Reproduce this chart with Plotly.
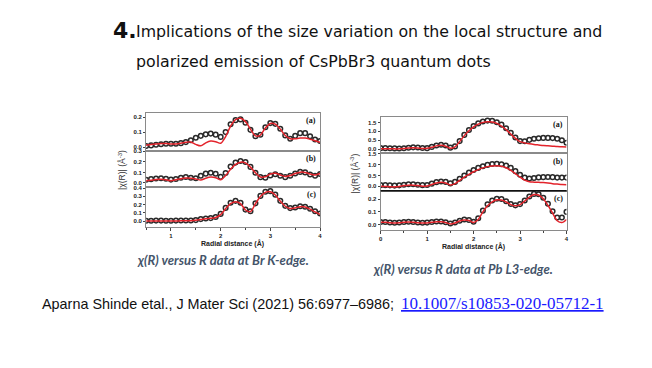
import plotly.graph_objects as go

W, H = 652, 368

# ---------------- data ----------------
x_br = [0.5, 0.6, 0.7, 0.8, 0.9, 1.0, 1.1, 1.2, 1.3, 1.4, 1.5, 1.6, 1.7, 1.8, 1.9, 2.0, 2.1, 2.2,
        2.3, 2.4, 2.5, 2.6, 2.7, 2.8, 2.9, 3.0, 3.1, 3.2, 3.3, 3.4, 3.5, 3.6, 3.7, 3.8, 3.9, 4.0]

br_a_data = [0.007, 0.011, 0.015, 0.019, 0.022, 0.022, 0.022, 0.026, 0.033, 0.045, 0.062, 0.075,
             0.085, 0.09, 0.083, 0.068, 0.1, 0.152, 0.18, 0.185, 0.162, 0.115, 0.073, 0.082,
             0.132, 0.16, 0.155, 0.122, 0.078, 0.055, 0.075, 0.093, 0.093, 0.072, 0.05, 0.04]
br_a_fit = [0.012, 0.017, 0.021, 0.024, 0.024, 0.021, 0.02, 0.025, 0.032, 0.034, 0.018, 0.008,
            0.028, 0.04, 0.036, 0.025, 0.07, 0.14, 0.183, 0.192, 0.17, 0.12, 0.075, 0.08,
            0.128, 0.158, 0.153, 0.12, 0.077, 0.055, 0.056, 0.06, 0.06, 0.052, 0.042, 0.032]

br_b_data = [0.03, 0.036, 0.042, 0.045, 0.04, 0.032, 0.038, 0.05, 0.056, 0.05, 0.045, 0.068,
             0.088, 0.097, 0.087, 0.058, 0.095, 0.155, 0.193, 0.208, 0.198, 0.152, 0.097, 0.055,
             0.05, 0.07, 0.082, 0.068, 0.055, 0.068, 0.09, 0.105, 0.1, 0.08, 0.068, 0.085]
br_b_fit = [0.02, 0.026, 0.032, 0.035, 0.03, 0.022, 0.03, 0.04, 0.046, 0.045, 0.038, 0.028,
            0.045, 0.056, 0.05, 0.03, 0.07, 0.13, 0.177, 0.197, 0.19, 0.15, 0.097, 0.057,
            0.058, 0.085, 0.092, 0.076, 0.062, 0.07, 0.09, 0.102, 0.1, 0.085, 0.076, 0.09]

br_c_data = [0.006, 0.006, 0.007, 0.007, 0.006, 0.006, 0.007, 0.008, 0.008, 0.009, 0.013, 0.025,
             0.033, 0.037, 0.05, 0.088, 0.16, 0.222, 0.245, 0.222, 0.14, 0.12, 0.215, 0.305,
             0.355, 0.362, 0.32, 0.245, 0.185, 0.158, 0.165, 0.18, 0.175, 0.15, 0.12, 0.092]
br_c_fit = [0.003, 0.003, 0.003, 0.003, 0.003, 0.003, 0.003, 0.004, 0.004, 0.005, 0.01, 0.02,
            0.03, 0.034, 0.045, 0.08, 0.15, 0.212, 0.235, 0.212, 0.135, 0.115, 0.21, 0.298,
            0.348, 0.355, 0.315, 0.24, 0.18, 0.152, 0.16, 0.175, 0.17, 0.145, 0.112, 0.082]

x_pb = [0.0, 0.1, 0.2, 0.3, 0.4, 0.5, 0.6, 0.7, 0.8, 0.9, 1.0, 1.1, 1.2, 1.3, 1.4, 1.5, 1.6, 1.7,
        1.8, 1.9, 2.0, 2.1, 2.2, 2.3, 2.4, 2.5, 2.6, 2.7, 2.8, 2.9, 3.0, 3.1, 3.2, 3.3, 3.4, 3.5,
        3.6, 3.7, 3.8, 3.9, 4.0]

pb_a_data = [0.05, 0.05, 0.045, 0.035, 0.03, 0.045, 0.075, 0.095, 0.085, 0.055, 0.05, 0.12, 0.2,
             0.24, 0.2, 0.08, 0.15, 0.45, 0.8, 1.08, 1.3, 1.45, 1.56, 1.61, 1.6, 1.52, 1.38, 1.18,
             0.92, 0.65, 0.45, 0.44, 0.52, 0.58, 0.61, 0.63, 0.63, 0.62, 0.58, 0.5, 0.36]
pb_a_fit = [0.02, 0.02, 0.015, 0.01, 0.01, 0.03, 0.06, 0.08, 0.06, 0.03, 0.04, 0.1, 0.18, 0.21,
            0.16, 0.04, 0.12, 0.42, 0.76, 1.04, 1.26, 1.41, 1.51, 1.55, 1.53, 1.45, 1.3, 1.1,
            0.85, 0.6, 0.42, 0.35, 0.3, 0.26, 0.23, 0.2, 0.18, 0.16, 0.14, 0.13, 0.12]

pb_b_data = [0.05, 0.05, 0.04, 0.03, 0.04, 0.07, 0.09, 0.09, 0.07, 0.05, 0.06, 0.12, 0.19, 0.22,
             0.2, 0.13, 0.2, 0.35, 0.5, 0.63, 0.75, 0.85, 0.93, 0.99, 1.03, 1.04, 1.02, 0.96,
             0.85, 0.7, 0.53, 0.4, 0.36, 0.38, 0.41, 0.42, 0.43, 0.42, 0.4, 0.4, 0.4]
pb_b_fit = [0.0, -0.01, -0.02, -0.03, -0.01, 0.03, 0.05, 0.05, 0.03, 0.0, 0.01, 0.08, 0.15, 0.18,
            0.15, 0.06, 0.12, 0.27, 0.42, 0.55, 0.67, 0.77, 0.85, 0.91, 0.94, 0.95, 0.93, 0.86,
            0.74, 0.58, 0.42, 0.28, 0.21, 0.19, 0.18, 0.17, 0.15, 0.12, 0.1, 0.08, 0.07]

pb_c_data = [0.02, 0.02, 0.016, 0.014, 0.016, 0.02, 0.022, 0.02, 0.016, 0.014, 0.015, 0.02, 0.024,
             0.024, 0.018, 0.008, 0.016, 0.03, 0.04, 0.036, 0.022, 0.05, 0.11, 0.16, 0.19, 0.205,
             0.202, 0.185, 0.163, 0.152, 0.162, 0.19, 0.222, 0.243, 0.24, 0.212, 0.165, 0.105,
             0.055, 0.055, 0.1]
pb_c_fit = [0.018, 0.017, 0.013, 0.011, 0.013, 0.017, 0.019, 0.017, 0.013, 0.011, 0.012, 0.017,
            0.021, 0.021, 0.015, 0.004, 0.012, 0.027, 0.036, 0.032, 0.016, 0.04, 0.1, 0.148,
            0.18, 0.196, 0.195, 0.18, 0.158, 0.148, 0.158, 0.186, 0.218, 0.238, 0.234, 0.204,
            0.152, 0.09, 0.03, 0.015, 0.04]

panel_labels = ["(a)", "(b)", "(c)"]
br_ticks = [[0.0, 0.1, 0.2], [0.0, 0.1, 0.2, 0.3], [0.0, 0.1, 0.2, 0.3, 0.4]]
pb_ticks = [[0.0, 0.5, 1.0, 1.5], [0.0, 0.5, 1.0, 1.5], [0.0, 0.1, 0.2]]
br_xticks = [1, 2, 3, 4]
pb_xticks = [0, 1, 2, 3, 4]

# ---------------- layout helpers ----------------
def px(v):
    return v / W

def py(v):
    return 1 - v / H

fig = go.Figure()

DATA_COLOR = "#2a2a2a"
FIT_COLOR = "#e3232b"
FRAME = "#8a8a8a"
TICKFONT = dict(family="Liberation Sans", size=6, color="#222", weight="bold")

panels = [
    (x_br, br_a_data, br_a_fit, (145, 320), (111, 149.3), [-0.027, 0.227], br_ticks[0], [0.5, 4], br_xticks, False),
    (x_br, br_b_data, br_b_fit, (145, 320), (149.3, 185.7), [-0.04, 0.302], br_ticks[1], [0.5, 4], br_xticks, False),
    (x_br, br_c_data, br_c_fit, (145, 320), (185.7, 226), [-0.072, 0.41], br_ticks[2], [0.5, 4], br_xticks, True),
    (x_pb, pb_a_data, pb_a_fit, (381, 568), (115, 151.7), [-0.25, 1.81], pb_ticks[0], [0, 4], pb_xticks, False),
    (x_pb, pb_b_data, pb_b_fit, (381, 568), (151.7, 189.3), [-0.21, 1.52], pb_ticks[1], [0, 4], pb_xticks, False),
    (x_pb, pb_c_data, pb_c_fit, (381, 568), (189.3, 229), [-0.045, 0.268], pb_ticks[2], [0, 4], pb_xticks, True),
]

annotations = []

def note(text, x, y, font, xanchor="center", yanchor="middle", **kw):
    annotations.append(dict(text=text, xref="paper", yref="paper", x=px(x), y=py(y),
                            xanchor=xanchor, yanchor=yanchor, showarrow=False, font=font, **kw))

for i, (xs, yd, yf, xd, yd_px, yr, yt, xr, xt, bottom) in enumerate(panels):
    n = i + 1
    xa = "x" if n == 1 else f"x{n}"
    ya = "y" if n == 1 else f"y{n}"
    fig.add_trace(go.Scatter(x=xs, y=yd, mode="markers", xaxis=xa, yaxis=ya,
                             marker=dict(symbol="circle-open", size=4.6, color=DATA_COLOR,
                                         line=dict(width=1.5, color=DATA_COLOR)),
                             showlegend=False, hoverinfo="skip"))
    fig.add_trace(go.Scatter(x=xs, y=yf, mode="lines", xaxis=xa, yaxis=ya,
                             line=dict(color=FIT_COLOR, width=1.5, shape="spline", smoothing=0.8),
                             showlegend=False, hoverinfo="skip"))
    xkey = "xaxis" if n == 1 else f"xaxis{n}"
    ykey = "yaxis" if n == 1 else f"yaxis{n}"
    fig.update_layout({
        xkey: dict(domain=[px(xd[0]), px(xd[1])], anchor=ya, range=xr, tickvals=xt,
                   showticklabels=bottom, ticks="outside" if bottom else "", ticklen=3,
                   tickcolor="#444", tickfont=TICKFONT, showline=True, mirror=True,
                   linecolor=FRAME, linewidth=1, showgrid=False, zeroline=False,
                   minor=dict(ticks="outside" if bottom else "", ticklen=2, dtick=0.5,
                              tickcolor="#444")),
        ykey: dict(domain=[py(yd_px[1]), py(yd_px[0])], anchor=xa, range=yr, tickvals=yt,
                   tickformat=".1f", ticks="outside", ticklen=2, tickcolor="#444",
                   tickfont=TICKFONT, showline=True, mirror=True, linecolor=FRAME,
                   linewidth=1, showgrid=False, zeroline=False),
    })
    annotations.append(dict(text="<b>" + panel_labels[i % 3] + "</b>", xref=f"{xa} domain",
                            yref=f"{ya} domain", x=0.99, y=0.97, xanchor="right",
                            yanchor="top", showarrow=False,
                            font=dict(family="Liberation Serif", size=8, color="#111")))

# black separator between right (b) and (c)
fig.add_shape(type="line", xref="paper", yref="paper", x0=px(381), x1=px(568),
              y0=py(189.3), y1=py(189.3), line=dict(color="#111", width=1.5))

# axis titles
YT = dict(family="Liberation Sans", size=8.5, color="#333")
note("|χ(R)| (Å<sup>-3</sup>)", 121, 168, YT, textangle=-90)
note("|χ(R)| (Å<sup>-3</sup>)", 355, 172, YT, textangle=-90)
XT = dict(family="Liberation Sans", size=7, color="#222")
note("<b>Radial distance (Å)</b>", 232, 242, XT)
note("<b>Radial distance (Å)</b>", 474, 245, XT)

# headline
note("<b>4.</b>", 110, 28, dict(family="DejaVu Sans", size=22, color="#111"), xanchor="left")
HL = dict(family="DejaVu Sans", size=15.8, color="#111")
note("Implications of the size variation on the local structure and", 133, 29, HL, xanchor="left")
note("polarized emission of CsPbBr3 quantum dots", 133, 59, HL, xanchor="left")

# captions
CAP = dict(family="Lato", size=13, color="#44546A", weight="bold", style="italic")
note("χ(R) versus R data at Br K-edge.", 222, 259, CAP)
note("χ(R) versus R data at Pb L3-edge.", 464, 268, CAP)

# citation
note("Aparna Shinde etal., J Mater Sci (2021) 56:6977–6986;", 38, 303,
     dict(family="Liberation Sans", size=14.4, color="#111"), xanchor="left")
note("<u>10.1007/s10853-020-05712-1</u>", 399, 303,
     dict(family="Liberation Serif", size=17, color="#1a1aff"), xanchor="left")

fig.update_layout(width=W, height=H, autosize=False,
                  margin=dict(l=0, r=0, t=0, b=0),
                  paper_bgcolor="white", plot_bgcolor="white",
                  annotations=annotations)

fig.write_html("out.html", config={"displayModeBar": False},
               post_script="document.body.style.margin='0';")
